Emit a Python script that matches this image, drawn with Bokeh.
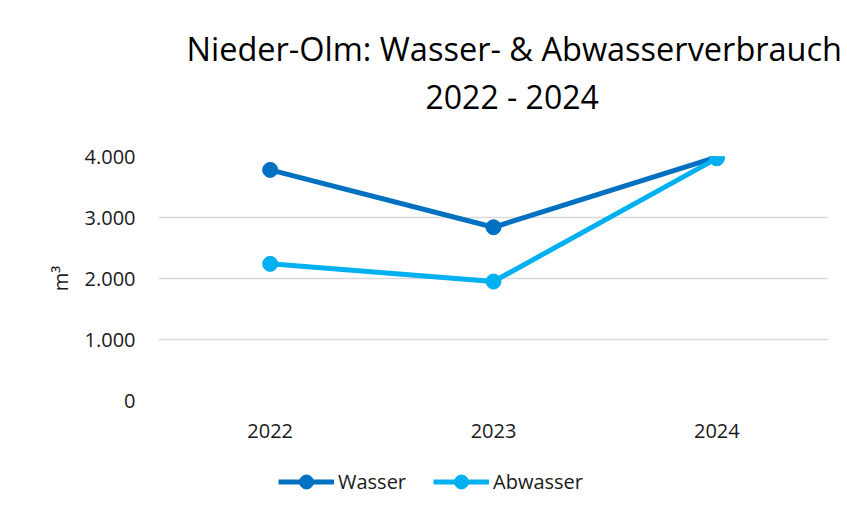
from bokeh.plotting import figure
from bokeh.layouts import column
from bokeh.models import FactorRange, Range1d, FixedTicker, Legend, LegendItem, Title
from bokeh.embed import file_html
from bokeh.resources import INLINE

years = ["2022", "2023", "2024"]
wasser = [3780, 2840, 3990]
abwasser = [2240, 1950, 3970]
y_ticks = [0, 1000, 2000, 3000, 4000]
y_tick_labels = ["0", "1.000", "2.000", "3.000", "4.000"]
title_line1 = "Nieder-Olm: Wasser- & Abwasserverbrauch"
title_line2 = "2022 - 2024"
y_label = "m³"
series_names = ["Wasser", "Abwasser"]
colors = ["#0070C0", "#00B0F0"]

FONT = "Open Sans"
W = 847

p = figure(width=W, height=460,
           x_range=FactorRange(*years, range_padding=0),
           y_range=Range1d(0, 4000),
           output_backend="svg", toolbar_location=None, title=None,
           min_border_left=158, min_border_right=19,
           min_border_top=156, min_border_bottom=60)

p.outline_line_color = None
p.background_fill_color = "white"
p.border_fill_color = "white"

for vals, col in zip([wasser, abwasser], colors):
    p.line(years, vals, line_width=5, line_color=col)
    p.scatter(years, vals, size=15, fill_color=col, line_color=col)

p.xgrid.visible = False
p.ygrid.grid_line_color = "#d9d9d9"
p.ygrid.grid_line_width = 1.5

p.yaxis.ticker = FixedTicker(ticks=y_ticks)
p.yaxis.major_label_overrides = dict(zip(y_ticks, y_tick_labels))
for ax in (p.xaxis[0], p.yaxis[0]):
    ax.axis_line_color = None
    ax.major_tick_line_color = None
    ax.minor_tick_line_color = None
    ax.major_tick_in = 0
    ax.major_tick_out = 0
    ax.major_label_text_font = FONT
    ax.major_label_text_font_size = "20px"
    ax.major_label_text_color = "#1a1a1a"
p.yaxis.major_label_standoff = 23
p.xaxis.major_label_standoff = 23
p.yaxis.axis_label = y_label
p.yaxis.axis_label_text_font = FONT
p.yaxis.axis_label_text_font_size = "20px"
p.yaxis.axis_label_text_font_style = "normal"
p.yaxis.axis_label_text_color = "#1a1a1a"
p.yaxis.axis_label_standoff = 8

t2 = Title(text=title_line2, align="left", offset=267, standoff=78,
           text_font=FONT, text_font_size="32px", text_font_style="normal", text_color="#000000")
t1 = Title(text=title_line1, align="left", offset=28, standoff=-74,
           text_font=FONT, text_font_size="32.5px", text_font_style="normal", text_color="#000000")
p.add_layout(t2, "above")
p.add_layout(t1, "above")

# legend strip below the chart (frame aligned with the chart's frame)
pl = figure(width=W, height=56, x_range=Range1d(0, 670), y_range=Range1d(0, 56),
            output_backend="svg", toolbar_location=None, title=None,
            min_border_left=158, min_border_right=19, min_border_top=0, min_border_bottom=0)
pl.axis.visible = False
pl.grid.visible = False
pl.outline_line_color = None
pl.border_fill_color = "white"

items = []
for name, col in zip(series_names, colors):
    l = pl.line(x=[-100, -90], y=[-100, -100], line_width=5, line_color=col)
    s = pl.scatter(x=[-100], y=[-100], size=15, fill_color=col, line_color=col)
    items.append(LegendItem(label=name, renderers=[l, s]))
legend = Legend(items=items, orientation="horizontal", location=(120, 17),
                glyph_width=56, glyph_height=35, label_standoff=4, spacing=27,
                padding=0, margin=0, border_line_color=None, background_fill_alpha=0,
                label_text_font=FONT, label_text_font_size="20px", label_text_color="#1a1a1a")
pl.add_layout(legend, "center")

layout = column(p, pl, spacing=0)
open("out.html", "w").write(file_html(layout, INLINE))
